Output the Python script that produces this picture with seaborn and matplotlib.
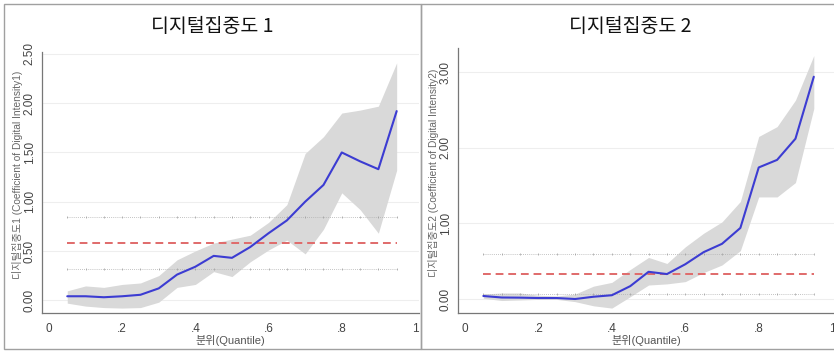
import numpy as np
import pandas as pd
import seaborn as sns
import matplotlib.pyplot as plt
from matplotlib.patches import Rectangle

# Quantile grid
quantiles = [0.05, 0.10, 0.15, 0.20, 0.25, 0.30, 0.35, 0.40, 0.45, 0.50,
             0.55, 0.60, 0.65, 0.70, 0.75, 0.80, 0.85, 0.90, 0.95]

# Digital intensity 1: quantile regression coefficients and confidence band
coef1 = [0.04, 0.04, 0.03, 0.04, 0.055, 0.12, 0.26, 0.34, 0.45, 0.43,
         0.54, 0.68, 0.81, 1.00, 1.17, 1.50, 1.41, 1.33, 1.92]
upper1 = [0.095, 0.145, 0.13, 0.16, 0.175, 0.25, 0.41, 0.50, 0.58, 0.62,
          0.66, 0.79, 0.97, 1.49, 1.66, 1.90, 1.93, 1.97, 2.41]
lower1 = [-0.03, -0.06, -0.075, -0.08, -0.075, -0.02, 0.13, 0.16, 0.29, 0.24,
          0.39, 0.51, 0.61, 0.47, 0.72, 1.09, 0.92, 0.68, 1.32]
ols1 = 0.58
ols1_ci = [0.32, 0.84]

# Digital intensity 2
coef2 = [0.04, 0.02, 0.018, 0.013, 0.013, 0.0, 0.03, 0.05, 0.17, 0.36,
         0.33, 0.46, 0.62, 0.73, 0.94, 1.74, 1.84, 2.12, 2.94]
upper2 = [0.066, 0.08, 0.08, 0.05, 0.04, 0.066, 0.17, 0.22, 0.39, 0.55,
          0.47, 0.69, 0.87, 1.02, 1.29, 2.15, 2.28, 2.63, 3.22]
lower2 = [0.01, -0.02, -0.013, -0.005, -0.005, -0.035, -0.09, -0.12, 0.03, 0.185,
          0.20, 0.23, 0.35, 0.45, 0.64, 1.35, 1.35, 1.54, 2.52]
ols2 = 0.33
ols2_ci = [0.07, 0.60]

titles = ["디지털집중도 1", "디지털집중도 2"]
ylabels = ["디지털집중도1 (Coefficient of Digital Intensity1)",
           "디지털집중도2 (Coefficient of Digital Intensity2)"]
xlabel = "분위(Quantile)"
xticks = [0, 0.2, 0.4, 0.6, 0.8, 1.0]
xticklabels = ["0", ".2", ".4", ".6", ".8", "1"]
yticks1 = [0.0, 0.5, 1.0, 1.5, 2.0, 2.5]
yticks2 = [0.0, 1.0, 2.0, 3.0]

sns.set_theme(style="white")
plt.rcParams["font.family"] = ["Noto Sans CJK KR", "DejaVu Sans"]

W, H = 834, 352
fig = plt.figure(figsize=(W / 100, H / 100), dpi=100)
fig.patch.set_facecolor("white")


def px_rect(x0, y0, x1, y1):
    return [x0 / W, 1 - y1 / H, (x1 - x0) / W, (y1 - y0) / H]


# panel frames
for x0, x1 in [(4, 421), (421, 840)]:
    fig.patches.append(Rectangle((x0 / W, 1 - 349 / H), (x1 - x0) / W, 345 / H,
                                 transform=fig.transFigure, fill=False,
                                 edgecolor="#a0a0a0", lw=1.0, zorder=0))

panels = [
    dict(rect=px_rect(42, 52, 419, 313), coef=coef1, up=upper1, lo=lower1,
         ols=ols1, ci=ols1_ci, yticks=yticks1, ylim=(-0.13, 2.52),
         xlim=(-0.019, 1.011), tx=212, ly=0.53),
    dict(rect=px_rect(458, 48, 834, 313), coef=coef2, up=upper2, lo=lower2,
         ols=ols2, ci=ols2_ci, yticks=yticks2, ylim=(-0.185, 3.32),
         xlim=(-0.019, 1.005), tx=630, ly=0.53),
]

latin = ["Liberation Sans", "Noto Sans CJK KR"]
for i, p in enumerate(panels):
    ax = fig.add_axes(p["rect"])
    ax.set_facecolor("white")
    df = pd.DataFrame({"q": quantiles, "coef": p["coef"]})
    for yt in p["yticks"]:
        ax.axhline(yt, color="#eeeeee", lw=0.8, zorder=0)
    ax.fill_between(quantiles, p["lo"], p["up"], color="#d9d9d9", lw=0, zorder=1)
    for v in p["ci"]:
        ax.plot(quantiles, [v] * len(quantiles), color="#b0b0b0", lw=0.6,
                ls=(0, (1, 1.5)), marker="|", ms=2.0, mew=0.5,
                markeredgecolor="#9a9a9a", zorder=2)
    ax.plot([quantiles[0], quantiles[-1]], [p["ols"]] * 2, color="#e06a6a",
            lw=1.4, ls=(0, (4, 2.5)), zorder=3)
    sns.lineplot(data=df, x="q", y="coef", ax=ax, color="#3c3cd2", lw=1.5,
                 zorder=4)
    ax.set_xlim(*p["xlim"])
    ax.set_ylim(*p["ylim"])
    ax.set_xticks(xticks)
    ax.set_xticklabels(xticklabels)
    ax.set_yticks(p["yticks"])
    ax.set_yticklabels([f"{v:.2f}" for v in p["yticks"]], rotation=90,
                       va="center")
    ax.tick_params(axis="both", colors="#666666", labelsize=8.5, length=4,
                   width=0.8, direction="out", pad=0.5, labelcolor="#444444")
    ax.tick_params(axis="x", pad=3)
    for s in ["top", "right"]:
        ax.spines[s].set_visible(False)
    for s in ["left", "bottom"]:
        ax.spines[s].set_color("#777777")
        ax.spines[s].set_linewidth(0.9)
    ax.set_xlabel(xlabel, fontsize=8, color="#555555", labelpad=0,
                  family=latin)
    ax.set_ylabel(ylabels[i], fontsize=7.3, color="#666666", family=latin)
    ax.yaxis.set_label_coords(-0.05, p["ly"])
    for lab in ax.get_xticklabels() + ax.get_yticklabels():
        lab.set_family(["Liberation Sans", "DejaVu Sans"])
    fig.text(p["tx"] / W, 1 - 26 / H, titles[i], ha="center", va="center",
             fontsize=14, color="#111111")

fig.savefig("out.png", dpi=100, facecolor="white")
